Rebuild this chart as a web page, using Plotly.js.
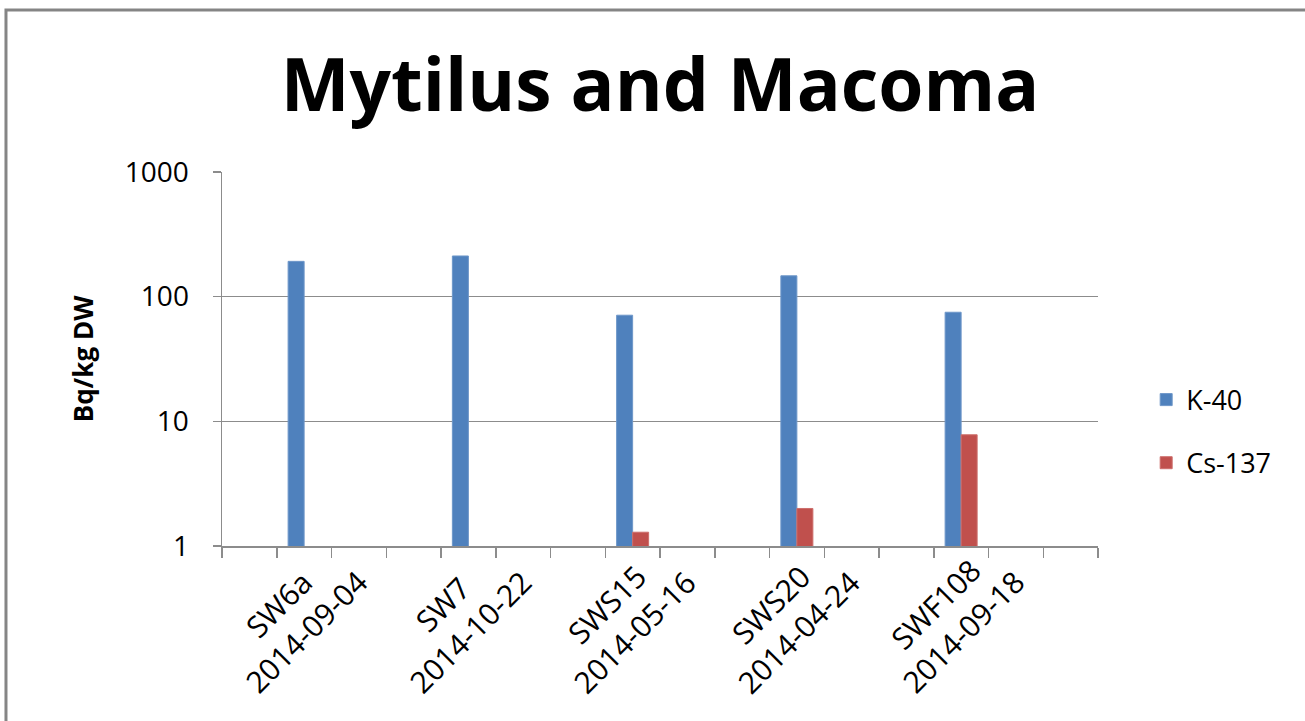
<!DOCTYPE html>
<html>
<head>
<meta charset="utf-8">
<script src="https://cdn.plot.ly/plotly-3.0.1.min.js"></script>
<style>
  html, body { margin: 0; padding: 0; background: #ffffff; }
  #chart { width: 1305px; height: 721px; }
</style>
</head>
<body>
<div id="chart"></div>
<script>
// Category slots on the x axis (blank slots are empty rows in the source sheet)
const categories = ["", "SW6a<br>2014-09-04", "", "", "SW7<br>2014-10-22", "", "", "SWS15<br>2014-05-16", "", "", "SWS20<br>2014-04-24", "", "", "SWF108<br>2014-09-18", "", ""];
// Bq/kg DW values
const k40    = [null, 192, null, null, 212, null, null, 71, null, null, 147, null, null, 75, null, null];
const cs137  = [null, null, null, null, null, null, null, 1.29, null, null, 2.0, null, null, 7.8, null, null];
const yTickVals = [1, 10, 100, 1000];
const yTickText = ["1", "10", "100", "1000"];
const seriesNames = ["K-40", "Cs-137"];

const xIdx = categories.map((_, i) => i);
const gray = "#8c8c8c";
const font = "'Open Sans', 'Liberation Sans', sans-serif";

const traces = [
  { type: "bar", name: seriesNames[0], x: xIdx, y: k40, marker: { color: "#4F81BD", line: { color: "#6E97C9", width: 1 } }, legendgroup: "a" },
  { type: "bar", name: seriesNames[1], x: xIdx, y: cs137, marker: { color: "#C0504D", line: { color: "#CD6E6B", width: 1 } }, legendgroup: "b" }
];

// Category labels drawn centred and rotated, positioned on the x scale
const labelAnnotations = categories
  .map((c, i) => ({ c, i }))
  .filter(o => o.c !== "")
  .map(o => ({
    xref: "x", yref: "paper", x: o.i, y: -0.192,
    text: o.c, showarrow: false, textangle: -45, align: "center",
    xanchor: "center", yanchor: "middle", xshift: -12,
    font: { family: font, size: 30, color: "#000000" }
  }));

const layout = {
  width: 1305, height: 721,
  paper_bgcolor: "#ffffff", plot_bgcolor: "#ffffff",
  margin: { l: 222, r: 207, t: 172, b: 175, pad: 0 },
  barmode: "group", bargap: 0.415, bargroupgap: 0,
  title: { text: "<b>Mytilus and Macoma</b>", font: { family: font, size: 73, color: "#000000" }, x: 0.5, xanchor: "center", xref: "paper", y: 0.882, yanchor: "middle" },
  showlegend: true,
  legend: { x: 1.055, xanchor: "left", y: 0.306, yanchor: "middle", font: { family: font, size: 27, color: "#000000" }, traceorder: "grouped", tracegroupgap: 25, bgcolor: "rgba(0,0,0,0)" },
  xaxis: {
    type: "linear", range: [-0.5, 15.5], fixedrange: true,
    tickmode: "array", tickvals: xIdx, ticktext: categories, ticks: "", showticklabels: false,
    showgrid: false, zeroline: false, showline: true, linecolor: gray, linewidth: 1.5,
    minor: { tickmode: "linear", tick0: -0.5, dtick: 1, ticks: "outside", ticklen: 10, tickwidth: 1.5, tickcolor: gray, showgrid: false }
  },
  yaxis: {
    type: "log", range: [0, 3], fixedrange: true,
    tickmode: "array", tickvals: yTickVals, ticktext: yTickText,
    ticks: "outside", ticklen: 8, tickwidth: 1.5, tickcolor: gray,
    ticklabelstandoff: 18,
    tickfont: { family: font, size: 28, color: "#000000" },
    showgrid: true, gridcolor: gray, gridwidth: 1.5,
    showline: true, linecolor: gray, linewidth: 1.5, zeroline: false,
    title: { text: "<b>Bq/kg DW</b>", font: { family: font, size: 26, color: "#000000" }, standoff: 24 }
  },
  annotations: labelAnnotations,
  shapes: [
    { type: "path", xref: "paper", yref: "paper", path: "M -0.2466 -0.48 L -0.2466 1.433 L 1.25 1.433", line: { color: "#858585", width: 3 } }
  ]
};

Plotly.newPlot("chart", traces, layout, { displayModeBar: false, staticPlot: true });
</script>
</body>
</html>
